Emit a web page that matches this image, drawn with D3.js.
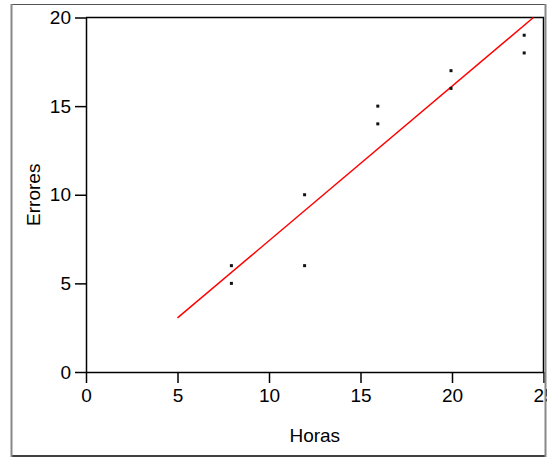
<!DOCTYPE html>
<html>
<head>
<meta charset="utf-8">
<script src="https://cdn.jsdelivr.net/npm/d3@7"></script>
<style>
  body { margin: 0; background: #fff; }
  text { font-family: "Liberation Sans", Arial, sans-serif; }
</style>
</head>
<body>
<div id="chart"></div>
<script>
// observed points (Horas, Errores)
var horas   = [8, 8, 12, 12, 16, 16, 20, 20, 24, 24];
var errores = [5, 6, 6, 10, 14, 15, 16, 17, 18, 19];

// fitted line
var lineX = [5, 24.45];
var lineY = [3.05, 20];

var xTicks = [0, 5, 10, 15, 20, 25];
var yTicks = [0, 5, 10, 15, 20];

var W = 547, H = 457;
var margin = {left: 86, top: 17.5, right: 3.5, bottom: 85};
var width = W - margin.left - margin.right,
    height = H - margin.top - margin.bottom;

var svg = d3.select("#chart").append("svg")
    .attr("width", W)
    .attr("height", H);

var g = svg.append("g")
    .attr("transform", "translate(" + margin.left + "," + margin.top + ")");

var x = d3.scaleLinear().domain([0, 25]).range([0, width]);
var y = d3.scaleLinear().domain([0, 20]).range([height, 0]);

// frame on top and right of the plot area
g.append("path")
    .attr("d", "M0,0H" + width + "V" + height)
    .attr("fill", "none")
    .attr("stroke", "#000")
    .attr("stroke-width", 1.5);

// x axis
var xAxis = g.append("g")
    .attr("transform", "translate(0," + height + ")")
    .call(d3.axisBottom(x).tickValues(xTicks).tickSize(11).tickSizeOuter(0).tickPadding(6));

// y axis
var yAxis = g.append("g")
    .call(d3.axisLeft(y).tickValues(yTicks).tickSize(11).tickSizeOuter(0).tickPadding(4));

[xAxis, yAxis].forEach(function(a) {
    a.selectAll("path, line").attr("stroke", "#000").attr("stroke-width", 1.5);
    a.selectAll("text").attr("font-size", 19).attr("fill", "#000")
        .style("font-family", "'Liberation Sans', Arial, sans-serif");
});

// regression line
g.append("line")
    .attr("x1", x(lineX[0])).attr("y1", y(lineY[0]))
    .attr("x2", x(lineX[1])).attr("y2", y(lineY[1]))
    .attr("stroke", "#ff0000")
    .attr("stroke-width", 1.5);

// points as small squares
g.selectAll(".pt")
    .data(horas)
    .enter().append("rect")
    .attr("class", "pt")
    .attr("x", function(d) { return x(d) - 2.5; })
    .attr("y", function(d, i) { return y(errores[i]) - 1.5; })
    .attr("width", 3)
    .attr("height", 3)
    .attr("fill", "#111");

// axis titles
svg.append("text")
    .attr("x", margin.left + width / 2)
    .attr("y", 442)
    .attr("text-anchor", "middle")
    .attr("font-size", 19)
    .text("Horas");

svg.append("text")
    .attr("transform", "translate(40," + (margin.top + height / 2) + ") rotate(-90)")
    .attr("text-anchor", "middle")
    .attr("font-size", 19)
    .text("Errores");

// outer box
svg.append("line").attr("x1", 11).attr("x2", 546).attr("y1", 4.5).attr("y2", 4.5)
    .attr("stroke", "#555").attr("stroke-width", 1);
svg.append("line").attr("x1", 11).attr("x2", 546).attr("y1", 456).attr("y2", 456)
    .attr("stroke", "#000").attr("stroke-width", 1.5);
svg.append("line").attr("x1", 11.5).attr("x2", 11.5).attr("y1", 4).attr("y2", 457)
    .attr("stroke", "#888").attr("stroke-width", 2);
svg.append("line").attr("x1", 545.5).attr("x2", 545.5).attr("y1", 4).attr("y2", 457)
    .attr("stroke", "#888").attr("stroke-width", 2);
</script>
</body>
</html>
